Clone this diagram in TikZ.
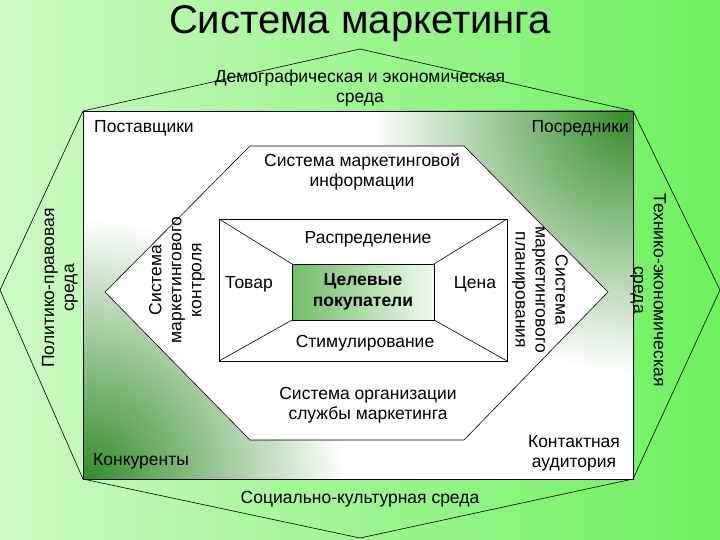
\documentclass[tikz,border=0pt]{standalone}
\usepackage{fontspec}
\setmainfont{Liberation Sans}
\usetikzlibrary{fadings}
\definecolor{dg}{RGB}{50,140,40}
\tikzfading[name=myfade, inner color=transparent!0, outer color=transparent!100]
\begin{document}
\begin{tikzpicture}[x=1pt,y=-1pt,
  lbl/.style={font=\fontsize{17.5}{20}\selectfont, align=center, inner sep=1pt},
  edge/.style={draw=black, line width=0.6pt}]
\useasboundingbox (0,0) rectangle (720,540);
\shade[left color={rgb,255:red,205;green,250;blue,195}, right color={rgb,255:red,110;green,240;blue,95}] (0,0) rectangle (720,540);
% octagon
\coordinate (ot) at (360,49); \coordinate (ol) at (0,290); \coordinate (ob) at (360,538); \coordinate (or) at (720,290);
\coordinate (s1) at (83,111); \coordinate (s2) at (633,111); \coordinate (s3) at (633,479); \coordinate (s4) at (83,479);
\draw[edge] (ot) -- (s2) -- (or) -- (s3) -- (ob) -- (s4) -- (ol) -- (s1) -- cycle;
% square
\begin{scope}
\clip (s1) rectangle (s3);
\fill[white] (s1) rectangle (s3);
\fill[dg, path fading=myfade] (83,479) circle (260);
\fill[dg, path fading=myfade] (633,111) circle (260);
\end{scope}
\draw[edge] (s1) rectangle (s3);
% hexagon
\coordinate (h1) at (250,146); \coordinate (h2) at (464,146); \coordinate (h3) at (608,292);
\coordinate (h4) at (464,440); \coordinate (h5) at (250,440); \coordinate (h6) at (105,292);
\filldraw[edge, fill=white] (h1) -- (h2) -- (h3) -- (h4) -- (h5) -- (h6) -- cycle;
% inner rect
\coordinate (r1) at (219,219); \coordinate (r2) at (507,219); \coordinate (r3) at (507,361); \coordinate (r4) at (219,361);
\coordinate (c1) at (292,264); \coordinate (c2) at (434,264); \coordinate (c3) at (434,320); \coordinate (c4) at (292,320);
\draw[edge] (r1) rectangle (r3);
\draw[edge] (r1) -- (c1) (r2) -- (c2) (r3) -- (c3) (r4) -- (c4);
\shade[left color={rgb,255:red,110;green,190;blue,100}, right color={rgb,255:red,240;green,250;blue,238}, draw=black, line width=0.6pt] (c1) rectangle (c3);
% texts
\node[font=\fontsize{40}{44}\selectfont] (title) at (360,24) {Система маркетинга};
\node[lbl] (dem) at (360,88) {Демографическая и экономическая\\среда};
\node[lbl, anchor=west] (post) at (93,128) {Поставщики};
\node[lbl, anchor=east] (posr) at (630,128) {Посредники};
\node[lbl] (smi) at (362,172) {Система маркетинговой\\информации};
\node[lbl] (ras) at (368,239) {Распределение};
\node[lbl] (tov) at (249,284) {Товар};
\node[lbl] (cen) at (475,284) {Цена};
\node[lbl, font=\fontsize{17.5}{21}\selectfont\bfseries] (cel) at (363,292) {Целевые\\покупатели};
\node[lbl] (stim) at (365,343) {Стимулирование};
\node[lbl] (org) at (368,405) {Система организации\\службы маркетинга};
\node[lbl, anchor=west] (kon) at (92,461) {Конкуренты};
\node[lbl] (kont) at (574,453) {Контактная\\аудитория};
\node[lbl] (soc) at (360,499) {Социально-культурная среда};
\node[lbl, rotate=90] (pol) at (60,288) {Политико-правовая\\среда};
\node[lbl, rotate=90] (smk) at (177,280) {Система\\маркетингового\\контроля};
\node[lbl, rotate=-90] (smp) at (540,290) {Система\\маркетингового\\планирования};
\node[lbl, rotate=-90] (tex) at (648,290) {Технико-экономическая\\среда};
\end{tikzpicture}
\end{document}
